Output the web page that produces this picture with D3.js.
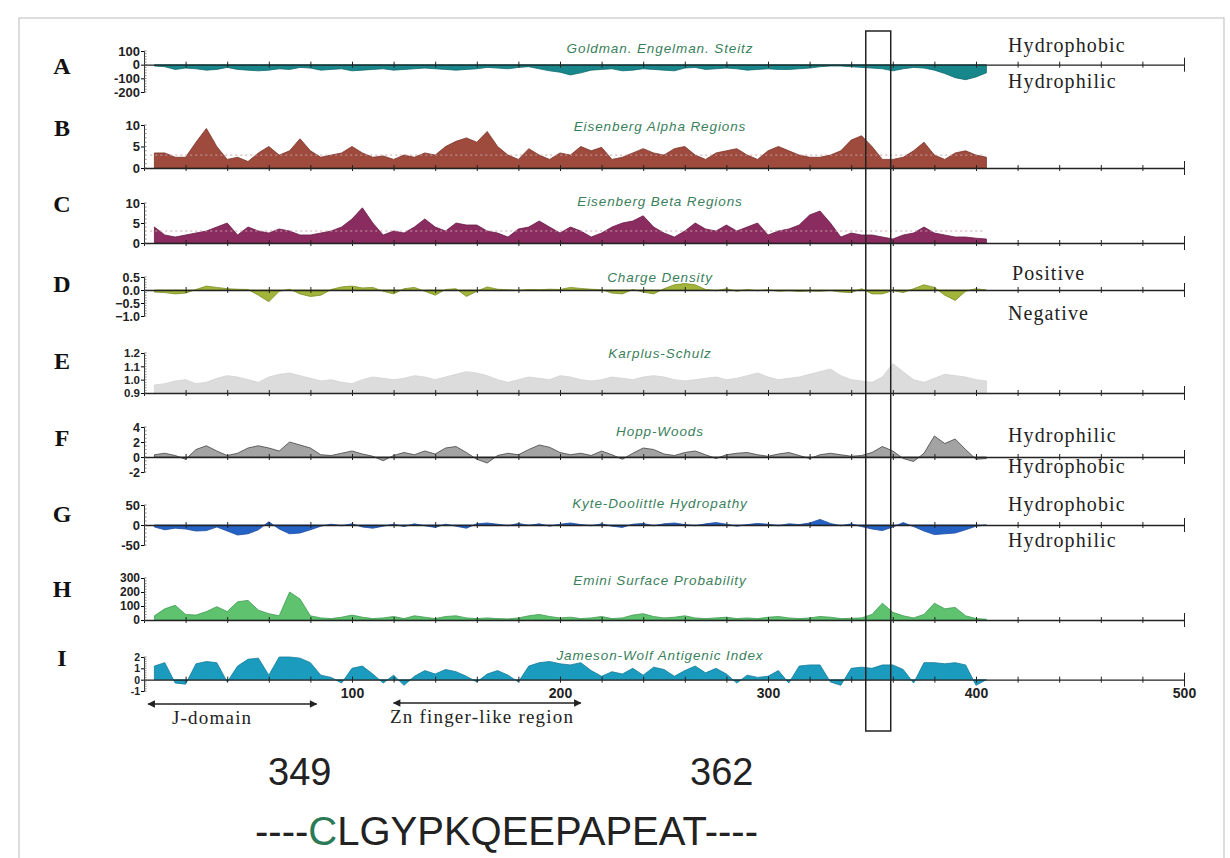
<!DOCTYPE html>
<html><head><meta charset="utf-8">
<script src="https://cdn.jsdelivr.net/npm/d3@7"></script>
<style>body{margin:0;background:#fff}svg{display:block}</style>
</head><body><svg id="c" width="1230" height="858"></svg>
<script>
// ---- DATA ----
const residues = [5,10,15,20,25,30,35,40,45,50,55,60,65,70,75,80,85,90,95,100,105,110,115,120,125,130,135,140,145,150,155,160,165,170,175,180,185,190,195,200,205,210,215,220,225,230,235,240,245,250,255,260,265,270,275,280,285,290,295,300,305,310,315,320,325,330,335,340,345,350,355,360,365,370,375,380,385,390,395,400,405];
const xTicks = [0,20,40,60,80,100,120,140,160,180,200,220,240,260,280,300,320,340,360,380,400,420,440,460,480,500];
const xTickLabels = [100,200,300,400,500];
const panelLetters = ["A","B","C","D","E","F","G","H","I"];
const panelTitles = ["Goldman. Engelman. Steitz","Eisenberg Alpha Regions","Eisenberg Beta Regions","Charge Density","Karplus-Schulz","Hopp-Woods","Kyte-Doolittle Hydropathy","Emini Surface Probability","Jameson-Wolf Antigenic Index"];
const yTicksA = [100,0,-100,-200];
const yTicksB = [10,5,0];
const yTicksC = [10,5,0];
const yTicksD = [0.5,0.0,-0.5,-1.0];
const yTicksE = [1.2,1.1,1.0,0.9];
const yTicksF = [4,2,0,-2];
const yTicksG = [50,0,-50];
const yTicksH = [300,200,100,0];
const yTicksI = [2,1,0,-1];

const goldman = [-10,-15,-35,-25,-30,-40,-35,-20,-35,-40,-45,-40,-30,-35,-20,-25,-40,-35,-30,-45,-40,-35,-30,-40,-35,-30,-25,-30,-35,-40,-35,-30,-20,-25,-30,-20,-15,-30,-45,-55,-75,-60,-40,-35,-30,-45,-40,-30,-35,-40,-45,-25,-20,-35,-30,-25,-30,-40,-35,-30,-35,-35,-30,-25,-15,-10,-10,-15,-20,-25,-30,-45,-30,-20,-25,-40,-65,-95,-110,-90,-60];
const alpha = [3.5,3.5,2.5,2.5,6,9.2,5,2,2.5,1.5,3.5,5,3,4,6.8,4,2.5,3,3.5,5,3.5,2.5,2.8,2,3,2.5,3.5,3,5,6.2,7,6,8.5,5,3,2,4.5,3,2,3.5,3,5,4,4.8,2,2.5,3.5,4.5,3.5,3,4.5,5,3,2,3.5,4,4.5,3,2,4,5,4,3,2.5,2.5,3,4,6.5,7.5,5,2,2,2.5,4,6,3,2,3.5,4,3,2.5];
const beta = [4,2,1.5,2,2.5,3,4,5,2,4,3,2.5,3.5,3,2,2,2.5,3,4,6,8.8,5,2,3,2.5,4,6,4,3,5,4.5,4.5,3,2.5,1.5,3.5,4,5.5,4,2.5,4,3,1.5,2.5,4,5,5.5,6.8,4,2.5,1.5,3,5,3.5,3,4.5,3,4,5,2,3,3.5,4.5,7,8,5,1.5,2.5,2,2,1.5,1,2,2.5,4,2.5,2,1.5,1.5,1.2,1];
const charge = [-0.08,-0.1,-0.15,-0.12,0.02,0.15,0.1,0.05,0.03,0.02,-0.2,-0.45,-0.05,0.03,-0.15,-0.25,-0.2,0.02,0.12,0.15,0.08,0.1,-0.05,-0.15,0.05,0.1,-0.05,-0.2,0.02,0.05,-0.25,-0.05,0.12,0.03,0.01,-0.02,0.02,0.01,0.03,0.02,0.1,0.06,0.03,0.01,-0.12,-0.15,0.02,-0.08,-0.15,0.05,0.2,0.25,0.2,0.02,-0.03,0.05,-0.05,0.02,-0.03,0.01,-0.05,-0.03,-0.06,-0.04,-0.05,-0.02,-0.08,-0.1,0.05,-0.15,-0.15,-0.02,-0.1,0.05,0.2,0.1,-0.2,-0.4,-0.05,0.05,0];
const karplus = [0.96,0.97,0.99,1.0,0.97,0.98,1.01,1.03,1.02,1.0,0.98,1.02,1.04,1.05,1.03,1.01,0.99,1.0,0.98,0.97,1.0,1.02,1.01,1.0,1.01,1.03,1.02,1.0,1.02,1.04,1.06,1.05,1.03,1.0,0.98,1.0,1.02,1.01,1.0,1.03,1.02,1.0,0.99,1.0,1.02,1.01,1.0,1.02,1.03,1.02,1.0,0.99,1.0,1.01,1.02,1.0,1.01,1.03,1.05,1.02,1.0,1.01,1.02,1.04,1.06,1.08,1.03,1.0,0.99,0.98,1.02,1.12,1.06,1.0,0.98,1.01,1.04,1.03,1.02,1.0,0.99];
const hopp = [0.3,0.5,0.2,-0.3,1.0,1.5,0.8,0.2,0.5,1.2,1.5,1.2,0.8,2.0,1.6,1.2,0.3,0.2,0.5,0.8,0.4,0.1,-0.5,0.2,0.6,0.3,0.8,0.4,1.2,1.4,0.6,-0.3,-0.8,0.2,0.5,0.3,1.0,1.6,1.3,0.6,0.3,0.5,0.2,0.8,0.3,-0.3,0.5,1.2,1.0,0.4,0.2,0.6,0.8,0.3,-0.2,0.3,0.5,0.6,0.3,0.1,0.4,0.6,0.2,-0.2,0.3,0.5,0.3,0.1,0.2,0.6,1.4,0.8,-0.2,-0.6,0.5,2.8,1.8,2.4,1.0,-0.3,-0.2];
const kyte = [-5,-12,-8,-10,-15,-14,-5,-15,-25,-22,-12,8,-10,-22,-20,-12,-3,2,-2,3,-5,-8,-3,2,-4,3,-2,-6,2,-3,-8,3,5,2,-2,4,-1,3,-3,2,5,1,-2,3,-3,-6,2,4,-2,3,5,1,-2,3,6,2,-3,1,4,2,-2,3,1,5,14,4,-2,3,-4,-10,-14,-5,6,-4,-15,-24,-22,-20,-12,-3,0];
const emini = [30,80,105,40,35,60,95,60,130,140,70,45,30,200,150,30,15,10,20,35,20,10,15,25,10,30,20,10,25,30,15,10,15,10,8,15,30,40,25,15,20,10,15,25,10,15,35,45,25,15,20,30,15,10,15,20,10,15,10,20,25,15,10,15,25,20,10,12,15,40,120,55,30,15,40,120,80,90,30,10,5];
const jameson = [1.2,1.5,-0.3,-0.4,1.4,1.6,1.5,-0.2,1.2,1.8,1.9,0.4,2.0,2.0,1.9,1.5,0.4,0.2,-0.3,1.0,1.2,0.5,-0.3,0.4,-0.5,0.3,0.8,0.5,0.9,0.7,0.3,-0.2,0.5,0.8,0.4,-0.2,1.2,1.5,1.6,1.4,1.3,1.5,0.8,0.3,0.7,0.5,1.0,0.4,1.1,0.9,0.3,0.8,1.2,0.6,1.0,0.5,-0.3,0.4,0.2,0.3,0.8,-0.3,1.2,1.3,1.3,-0.2,-0.5,1.0,1.1,1.0,1.3,1.3,0.9,-0.3,1.5,1.5,1.4,1.5,1.3,-0.5,0];
const refLines = [null,3,3,null,null,null,null,null,null];
const jDomain = [2,83];
const znRegion = [120,210];
const boxRange = [347,359];

// ---- LAYOUT ----
const svg = d3.select("#c");
svg.append("rect").attr("width",1230).attr("height",858).attr("fill","#fff");
const x = d3.scaleLinear().domain([0,500]).range([144,1184]);

const series = [goldman,alpha,beta,charge,karplus,hopp,kyte,emini,jameson];
const yTicks = [yTicksA,yTicksB,yTicksC,yTicksD,yTicksE,yTicksF,yTicksG,yTicksH,yTicksI];
const domains = [[-200,100],[0,10],[0,10],[-1,0.5],[0.9,1.2],[-2,4],[-50,50],[0,300],[-1,2]];
const ranges = [[92,51],[168,125],[243,203],[316,277],[393,353],[472,427],[545,505],[620,578],[691,657]];
const bases = [0,0,0,0,0.9,0,0,0,0];
const fills = ["#17878b","#9e4a3d","#8a2c5f","#a2b43a","#dcdcdc","#a3a3a3","#2462c6","#5fc26f","#1b9cbf"];
const strokes = ["#0f6b6e","#7a3327","#6a1c47","#7d8e22","#d2d2d2","#444","#1a4aa0","#3f9a50","#137a99"];
const letterY = [74,136,212,292,369,446,522,597,666];
const titleY = [53,131,206,282,358,436,508,585,660];
const yLabelSize = [13,13,13,12.5,11.5,12.5,13,12,10.5];

const panels = series.map((v,i)=>({vals:v, ticks:yTicks[i], y:d3.scaleLinear().domain(domains[i]).range(ranges[i]), base:bases[i], fill:fills[i], stroke:strokes[i], letter:panelLetters[i], title:panelTitles[i]}));

panels.forEach((p,i)=>{
  const g = svg.append("g");
  const pts = residues.map((r,k)=>({r, v:p.vals[k]}));
  const area = d3.area().x(d=>x(d.r)).y0(p.y(p.base)).y1(d=>p.y(d.v));
  g.append("path").datum(pts).attr("d",area).attr("fill",p.fill).attr("stroke",p.stroke).attr("stroke-width",0.8);
  if (refLines[i]!==null){
    g.append("line").attr("x1",x(3)).attr("x2",x(404)).attr("y1",p.y(refLines[i])).attr("y2",p.y(refLines[i]))
     .attr("stroke","#c9a0a8").attr("stroke-dasharray","2,3").attr("stroke-width",1);
  }
  const ax = d3.axisBottom(x).tickValues(xTicks).tickSizeOuter(0).tickFormat(i===8?(d=>xTickLabels.includes(d)?d:""):"");
  const axg = g.append("g").attr("transform",`translate(0,${p.y(p.base)})`).call(ax);
  axg.select(".domain").attr("stroke","#222").attr("stroke-width",1.4);
  axg.selectAll(".tick line").attr("y1",-3).attr("y2",3).attr("stroke","#222");
  axg.selectAll(".tick").filter(d=>d===500).select("line").attr("y1",-7).attr("y2",7);
  axg.selectAll(".tick text").attr("y",8).attr("font-family","'Liberation Sans Narrow','Liberation Sans',sans-serif").attr("font-weight","bold").attr("font-size",14).attr("fill","#222");
  const ay = d3.axisLeft(p.y).tickValues(p.ticks).tickSize(3).tickFormat(d=> (i===3||i===4)? d3.format(".1f")(d) : d);
  const ayg = g.append("g").attr("transform",`translate(${x(0)},0)`).call(ay);
  ayg.select(".domain").attr("stroke","#333");
  ayg.selectAll(".tick text").attr("x",-4).attr("font-family","'Liberation Sans Narrow','Liberation Sans',sans-serif").attr("font-weight","bold").attr("font-size",yLabelSize[i]).attr("fill","#222");
  const minor = p.y.ticks(14);
  ayg.selectAll(".minor").data(minor).enter().append("line").attr("class","minor")
     .attr("x1",0).attr("x2",2.5).attr("y1",d=>p.y(d)).attr("y2",d=>p.y(d)).attr("stroke","#555").attr("stroke-width",0.7);
  svg.append("text").attr("x",62).attr("y",letterY[i]).attr("text-anchor","middle")
     .attr("font-family","'Liberation Serif',serif").attr("font-weight","bold").attr("font-size",24).attr("fill","#111").text(p.letter);
  svg.append("text").attr("x",660).attr("y",titleY[i]).attr("text-anchor","middle")
     .attr("font-family","'Liberation Sans',sans-serif").attr("font-style","italic").attr("font-size",13.5).attr("letter-spacing",0.9)
     .attr("fill","#3a805c").text(p.title);
});

const sideLabels = [["Hydrophobic",1008,52],["Hydrophilic",1008,88],["Positive",1012,280],["Negative",1008,320],["Hydrophilic",1008,442],["Hydrophobic",1008,473],["Hydrophobic",1008,511],["Hydrophilic",1008,547]];
svg.selectAll(".side").data(sideLabels).enter().append("text").attr("class","side")
  .attr("x",d=>d[1]).attr("y",d=>d[2]).attr("font-family","'Liberation Serif',serif").attr("font-size",20).attr("letter-spacing",1.1).attr("fill","#222").text(d=>d[0]);

svg.append("rect").attr("x",x(boxRange[0])).attr("y",31).attr("width",x(boxRange[1])-x(boxRange[0])).attr("height",700)
  .attr("fill","none").attr("stroke","#222").attr("stroke-width",1.5);

const defs = svg.append("defs");
defs.append("marker").attr("id","ah").attr("viewBox","0 0 10 10").attr("refX",9).attr("refY",5).attr("markerWidth",6).attr("markerHeight",5).attr("orient","auto-start-reverse")
  .append("path").attr("d","M0,0 L10,5 L0,10 z").attr("fill","#222");
[[jDomain,704,"J-domain",172],[znRegion,703,"Zn finger-like region",390]].forEach(([rg,yy,lab,tx])=>{
  svg.append("line").attr("x1",x(rg[0])).attr("x2",x(rg[1])).attr("y1",yy).attr("y2",yy).attr("stroke","#222").attr("stroke-width",1.5)
    .attr("marker-start","url(#ah)").attr("marker-end","url(#ah)");
  svg.append("text").attr("x",tx).attr("y",yy+20).attr("font-family","'Liberation Serif',serif").attr("font-size",19).attr("letter-spacing",1.2).attr("fill","#222").text(lab);
});

svg.append("text").attr("x",268).attr("y",785).attr("font-family","'Liberation Sans',Arial,sans-serif").attr("font-size",38).attr("fill","#222").text("349");
svg.append("text").attr("x",690).attr("y",785).attr("font-family","'Liberation Sans',Arial,sans-serif").attr("font-size",38).attr("fill","#222").text("362");
const seq = svg.append("text").attr("x",255).attr("y",845).attr("font-family","'Liberation Sans',Arial,sans-serif").attr("font-size",40).attr("fill","#222");
seq.append("tspan").text("----");
seq.append("tspan").attr("fill","#2b7a55").text("C");
seq.append("tspan").text("LGYPKQEEPAPEAT----");

svg.append("rect").attr("x",19).attr("y",18).attr("width",1205).attr("height",845).attr("fill","none").attr("stroke","#bbb").attr("stroke-width",1);
</script></body></html>
